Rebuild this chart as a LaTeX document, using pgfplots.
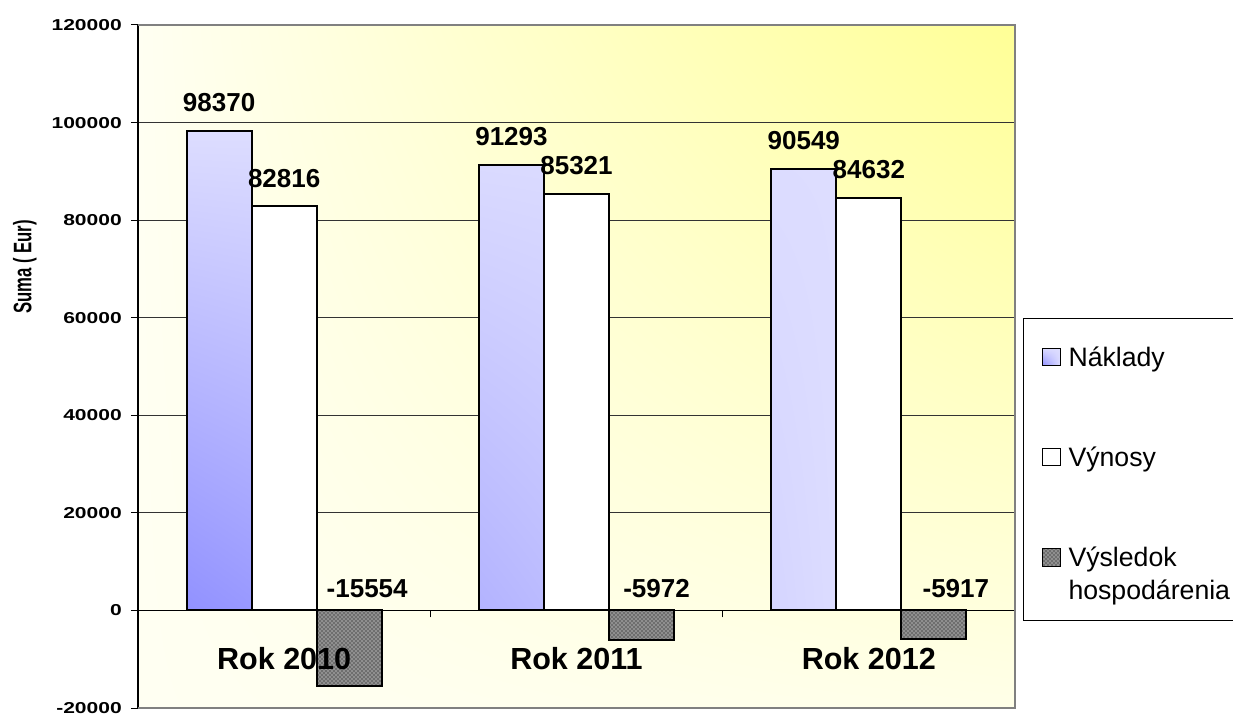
\documentclass[border=0pt]{standalone}
\usepackage{pgfplots}
\pgfplotsset{compat=1.18}
\usepackage{fontspec}
\setmainfont{Liberation Sans}
\usetikzlibrary{patterns,shadings}
\definecolor{nakTop}{RGB}{221,221,255}
\definecolor{nakBL}{RGB}{145,145,255}
\definecolor{nakBR}{RGB}{220,220,255}
\definecolor{bgUL}{RGB}{255,255,242}
\definecolor{bgUR}{RGB}{255,255,150}
\definecolor{bgLL}{RGB}{255,255,242}
\definecolor{bgLR}{RGB}{255,255,232}
\definecolor{hatch}{RGB}{110,110,110}
\newcommand\yl[1]{\scalebox{1.33}[1]{#1}}
\pgfplotsset{
  sq/.style={legend image code/.code={\draw[##1,line width=0.75pt] (0pt,0.5pt) rectangle (13pt,13.5pt);}},
  sqhi/.style={legend image code/.code={\draw[##1,line width=0.75pt] (0pt,25.25pt) rectangle (13pt,38.25pt);}}}
\begin{document}
\begin{tikzpicture}
\path[use as bounding box] (-103.5pt,-5.25pt) rectangle (821.25pt,531pt);
\begin{axis}[
  at={(0,0)}, anchor=south west,
  scale only axis, width=657.75pt, height=512.25pt,
  xmin=0.5, xmax=3.5, ymin=-20000, ymax=120000,
  axis background/.style={upper left=bgUL, upper right=bgUR, lower left=bgLL, lower right=bgLR},
  axis x line*=middle, axis y line*=left,
  axis line style={black, line width=1pt},
  tick align=outside,
  major tick length=5.25pt,
  tick style={black, line width=0.75pt},
  scaled y ticks=false,
  ytick={-20000,0,20000,40000,60000,80000,100000,120000},
  yticklabels={\yl{-20000},\yl{0},\yl{20000},\yl{40000},\yl{60000},\yl{80000},\yl{100000},\yl{120000}},
  yticklabel style={font=\bfseries\fontsize{11.85}{14}\selectfont, inner sep=0pt, anchor=east, xshift=-6.75pt},
  ymajorgrids, major grid style={black!80, line width=0.75pt},
  xtick={1.5,2.5,3.5}, xticklabels={},
  ylabel={\scalebox{0.66}[1]{Suma ( Eur)}},
  ylabel style={font=\bfseries\fontsize{19}{21}\selectfont, at={(rel axis cs:-0.1289,0.6457)}, anchor=center},
  bar width=0.2224,
  legend style={at={(1.00912,0.5710)}, anchor=north west, draw=black, line width=0.75pt, fill=white,
    font=\fontsize{20}{24.75}\selectfont, inner xsep=14pt, inner ysep=14pt, row sep=59pt,
    nodes={inner sep=0pt, align=left}, cells={anchor=base west},
    /tikz/every odd column/.append style={column sep=6pt}},
  clip=false,
]
\draw[gray, line width=1.5pt] (rel axis cs:0,0) -- (rel axis cs:1,0) -- (rel axis cs:1,1) -- (rel axis cs:0,1);
\addplot[ybar, bar shift=0pt, draw=black, line width=1.5pt,
  upper left=nakTop, upper right=nakTop, lower left=nakBL, lower right=nakBR,
  point meta=explicit symbolic, nodes near coords,
  every node near coord/.append style={font=\bfseries\fontsize{19.5}{22}\selectfont, anchor=south, inner sep=0pt, yshift=13.5pt},
  sq]
  coordinates {(0.7776,98370) [98370] (1.7776,91293) [91293] (2.7776,90549) [90549]};
\addlegendentry{\rule{0pt}{21.7pt}Náklady}
\addplot[ybar, bar shift=0pt, draw=black, line width=1.5pt, fill=white,
  point meta=explicit symbolic, nodes near coords,
  every node near coord/.append style={font=\bfseries\fontsize{19.5}{22}\selectfont, anchor=south, inner sep=0pt, yshift=13.5pt},
  sq]
  coordinates {(1,82816) [82816] (2,85321) [85321] (3,84632) [84632]};
\addlegendentry{Výnosy}
\addplot[ybar, bar shift=0pt, draw=black, line width=1.5pt, fill=hatch,
  postaction={pattern=crosshatch dots, pattern color=white},
  sqhi]
  coordinates {(1.2224,-15554) (2.2224,-5972) (3.2224,-5917)};
\addlegendentry{Výsledok\\hospodárenia}
\node[font=\bfseries\fontsize{19.5}{22}\selectfont, anchor=south, inner sep=0pt, xshift=13.5pt, yshift=9pt] at (axis cs:1.2224,0) {-15554};
\node[font=\bfseries\fontsize{19.5}{22}\selectfont, anchor=south, inner sep=0pt, xshift=11.25pt, yshift=9pt] at (axis cs:2.2224,0) {-5972};
\node[font=\bfseries\fontsize{19.5}{22}\selectfont, anchor=south, inner sep=0pt, xshift=16.5pt, yshift=9pt] at (axis cs:3.2224,0) {-5917};
\node[font=\bfseries\fontsize{22.9}{26}\selectfont, anchor=north, inner sep=0pt, yshift=-27.75pt] at (axis cs:1,0) {Rok 2010};
\node[font=\bfseries\fontsize{22.9}{26}\selectfont, anchor=north, inner sep=0pt, yshift=-27.75pt] at (axis cs:2,0) {Rok 2011};
\node[font=\bfseries\fontsize{22.9}{26}\selectfont, anchor=north, inner sep=0pt, yshift=-27.75pt] at (axis cs:3,0) {Rok 2012};
\end{axis}
\end{tikzpicture}
\end{document}
